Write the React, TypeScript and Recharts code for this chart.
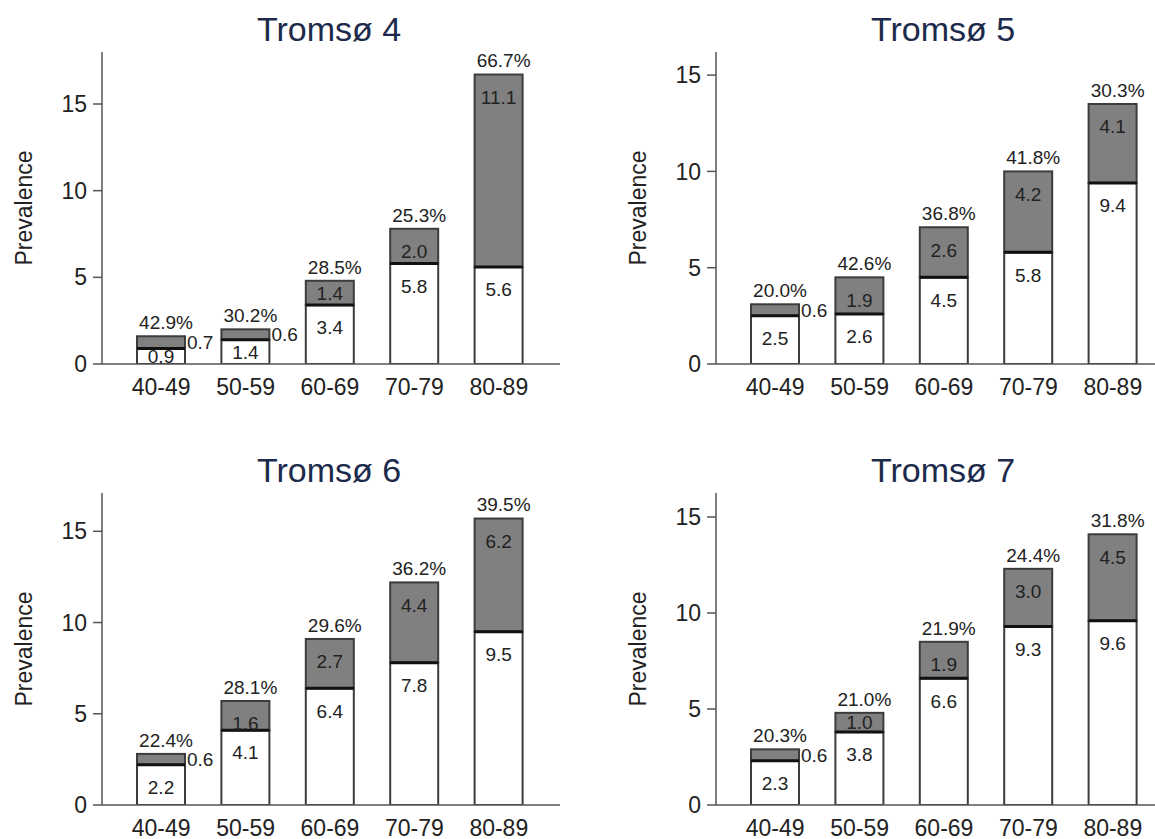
import React from 'react';
import { BarChart, Bar, XAxis, YAxis } from 'recharts';

const categories = ['40-49', '50-59', '60-69', '70-79', '80-89'];

const t4White = [0.9, 1.4, 3.4, 5.8, 5.6];
const t4Gray = [0.7, 0.6, 1.4, 2.0, 11.1];
const t4Pct = [42.9, 30.2, 28.5, 25.3, 66.7];

const t5White = [2.5, 2.6, 4.5, 5.8, 9.4];
const t5Gray = [0.6, 1.9, 2.6, 4.2, 4.1];
const t5Pct = [20.0, 42.6, 36.8, 41.8, 30.3];

const t6White = [2.2, 4.1, 6.4, 7.8, 9.5];
const t6Gray = [0.6, 1.6, 2.7, 4.4, 6.2];
const t6Pct = [22.4, 28.1, 29.6, 36.2, 39.5];

const t7White = [2.3, 3.8, 6.6, 9.3, 9.6];
const t7Gray = [0.6, 1.0, 1.9, 3.0, 4.5];
const t7Pct = [20.3, 21.0, 21.9, 24.4, 31.8];

const yTicks = [0, 5, 10, 15];

const FONT = '"Liberation Sans", Arial, Helvetica, sans-serif';
const TEXT = '#222222';
const AXIS = '#555555';
const OUTLINE = '#3c3c3c';
const GRAY = '#808080';
const TITLE = '#1c2a4b';
const LABEL_SIZE = 19;
const LABEL_DY = 6.8;

const panels = [
  { title: 'Tromsø 4', white: t4White, gray: t4Gray, pct: t4Pct, yMax: 18.0, left: 0, top: 0 },
  { title: 'Tromsø 5', white: t5White, gray: t5Gray, pct: t5Pct, yMax: 16.2, left: 614, top: 0 },
  { title: 'Tromsø 6', white: t6White, gray: t6Gray, pct: t6Pct, yMax: 17.1, left: 0, top: 441 },
  { title: 'Tromsø 7', white: t7White, gray: t7Gray, pct: t7Pct, yMax: 16.25, left: 614, top: 441 },
];

const labelCenter = (y: number, h: number) => (h >= 27 ? y + 22.5 : y + h / 2);

const WhiteShape = (props: any) => {
  const { x, y, width, height, payload } = props;
  const cy = labelCenter(y, height);
  return (
    <g>
      <rect x={x} y={y} width={width} height={height} fill="#ffffff" stroke={OUTLINE} strokeWidth={2} />
      <text
        x={x + width / 2}
        y={cy + LABEL_DY}
        textAnchor="middle"
        fontSize={LABEL_SIZE}
        fontFamily={FONT}
        fill={TEXT}
      >
        {payload.white.toFixed(1)}
      </text>
    </g>
  );
};

const GrayShape = (props: any) => {
  const { x, y, width, height, payload } = props;
  const small = payload.gray < 0.8;
  const cy = labelCenter(y, height);
  return (
    <g>
      <rect x={x} y={y} width={width} height={height} fill={GRAY} stroke={OUTLINE} strokeWidth={2} />
      <line x1={x} x2={x + width} y1={y + height} y2={y + height} stroke="#111111" strokeWidth={3} />
      {small ? (
        <text
          x={x + width + 2}
          y={y + height / 2 + LABEL_DY}
          textAnchor="start"
          fontSize={LABEL_SIZE}
          fontFamily={FONT}
          fill={TEXT}
        >
          {payload.gray.toFixed(1)}
        </text>
      ) : (
        <text
          x={x + width / 2}
          y={cy + LABEL_DY}
          textAnchor="middle"
          fontSize={LABEL_SIZE}
          fontFamily={FONT}
          fill={TEXT}
        >
          {payload.gray.toFixed(1)}
        </text>
      )}
      <text
        x={x + width / 2 + 5}
        y={y - 14 + LABEL_DY}
        textAnchor="middle"
        fontSize={LABEL_SIZE}
        fontFamily={FONT}
        fill={TEXT}
      >
        {payload.pct.toFixed(1) + '%'}
      </text>
    </g>
  );
};

const Panel = ({ p }: { p: typeof panels[number] }) => {
  const data = categories.map((c, i) => ({ cat: c, white: p.white[i], gray: p.gray[i], pct: p.pct[i] }));
  return (
    <div style={{ position: 'absolute', left: p.left, top: p.top, width: 577, height: 420 }}>
      <BarChart width={577} height={420} data={data} margin={{ top: 52, right: 17, bottom: 0, left: 0 }} barSize={48}>
        <XAxis
          dataKey="cat"
          padding={{ left: 17, right: 19 }}
          height={56}
          interval={0}
          tickLine={false}
          tickSize={6}
          tickMargin={9}
          axisLine={{ stroke: AXIS, strokeWidth: 1.5 }}
          tick={{ fontSize: 23, fill: TEXT, fontFamily: FONT }}
        />
        <YAxis
          type="number"
          domain={[0, p.yMax]}
          ticks={yTicks}
          allowDataOverflow
          width={102}
          tickSize={9}
          tickMargin={6}
          axisLine={{ stroke: AXIS, strokeWidth: 1.5 }}
          tickLine={{ stroke: AXIS, strokeWidth: 1.5 }}
          tick={{ fontSize: 23, fill: TEXT, fontFamily: FONT }}
        />
        <Bar dataKey="white" stackId="a" shape={WhiteShape} isAnimationActive={false} />
        <Bar dataKey="gray" stackId="a" shape={GrayShape} isAnimationActive={false} />
      </BarChart>
      <svg
        width={577}
        height={420}
        style={{ position: 'absolute', left: 0, top: 0, pointerEvents: 'none' }}
      >
        <text x={329} y={41} textAnchor="middle" fontSize={34} fontFamily={FONT} fill={TITLE}>
          {p.title}
        </text>
        <text
          transform="translate(31.5,208) rotate(-90)"
          textAnchor="middle"
          fontSize={23}
          fontFamily={FONT}
          fill={TEXT}
        >
          Prevalence
        </text>
      </svg>
    </div>
  );
};

export default function App() {
  return (
    <div
      style={{
        position: 'absolute',
        left: 0,
        top: 0,
        width: 1155,
        height: 839,
        overflow: 'hidden',
        background: '#ffffff',
        fontFamily: FONT,
      }}
    >
      {panels.map((p) => (
        <Panel key={p.title} p={p} />
      ))}
    </div>
  );
}
